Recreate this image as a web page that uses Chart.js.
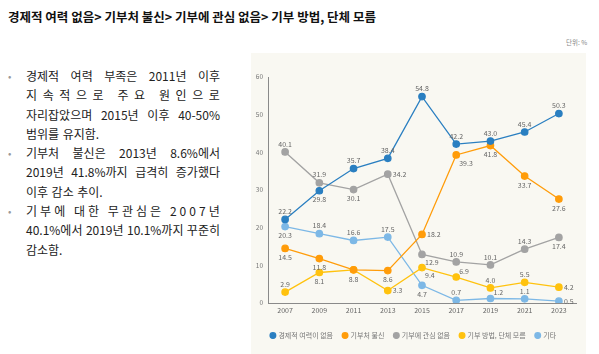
<!DOCTYPE html>
<html>
<head>
<meta charset="utf-8">
<script src="https://cdn.jsdelivr.net/npm/chart.js@4.4.1/dist/chart.umd.min.js"></script>
<style>
body { margin: 0; width: 599px; height: 354px; background: #fff; position: relative; overflow: hidden;
       font-family: "Noto Sans CJK KR", "Noto Sans", sans-serif; }
#title { position: absolute; left: 8px; top: 7px; font-size: 12.5px; font-weight: bold; color: #111; white-space: nowrap; }
#unit { position: absolute; left: 566px; top: 37px; font-size: 6.5px; color: #888; }
#notes { position: absolute; left: 8px; top: 66px; width: 212px; font-size: 12px; color: #222; }
.line { position: relative; height: 19.3px; line-height: 19.3px; display: flex; justify-content: space-between;
        margin-left: 18px; white-space: nowrap; }
.line.left { justify-content: flex-start; gap: 3.5px; }
.bul { position: absolute; left: -18px; color: #999; font-size: 10px; }
#panel { position: absolute; left: 251px; top: 53px; width: 335px; height: 301px; background: #f9f8f2; }
</style>
</head>
<body>
<div id="title">경제적 여력 없음&gt; 기부처 불신&gt; 기부에 관심 없음&gt; 기부 방법, 단체 모름</div>
<div id="unit">단위: %</div>
<div id="notes"></div>
<div id="panel"><canvas id="chart" width="335" height="301"></canvas></div>
<script>
const years = ["2007", "2009", "2011", "2013", "2015", "2017", "2019", "2021", "2023"];
const seriesNames = ["경제적 여력이 없음", "기부처 불신", "기부에 관심 없음", "기부 방법, 단체 모름", "기타"];

const noMeans    = [22.2, 29.8, 35.7, 38.4, 54.8, 42.2, 43.0, 45.4, 50.3];
const distrust   = [14.5, 11.8, 8.8, 8.6, 18.2, 39.3, 41.8, 33.7, 27.6];
const noInterest = [40.1, 31.9, 30.1, 34.2, 12.9, 10.9, 10.1, 14.3, 17.4];
const noIdea     = [2.9, 8.1, 8.8, 3.3, 9.4, 6.9, 4.0, 5.5, 4.2];
const other      = [20.3, 18.4, 16.6, 17.5, 4.7, 0.7, 1.2, 1.1, 0.5];

// where each value label sits next to its point
const labelPos = [
    ["t", "b", "t", "t", "t", "t", "t", "t", "t"],
    ["b", "b", "b", "b", "r", "br", "b", "b", "b"],
    ["t", "t", "b", "r", "br", "t", "t", "t", "b"],
    ["t", "b", null, "r", "br", "tr", "t", "t", "r"],
    ["b", "t", "t", "t", "b", "t", "tr", "t", "r"]
];
const colors = ["#2a7fc1", "#ff9c0a", "#a3a3a3", "#ffc20e", "#7db8e6"];

const notes = [
    { text: "경제적 여력 부족은 2011년 이후", mode: "words", bullet: true },
    { text: "지속적으로 주요 원인으로", mode: "chars" },
    { text: "자리잡았으며 2015년 이후 40-50%", mode: "words" },
    { text: "범위를 유지함.", mode: "left" },
    { text: "기부처 불신은 2013년 8.6%에서", mode: "words", bullet: true },
    { text: "2019년 41.8%까지 급격히 증가했다", mode: "words" },
    { text: "이후 감소 추이.", mode: "left" },
    { text: "기부에 대한 무관심은 2007년", mode: "chars", bullet: true },
    { text: "40.1%에서 2019년 10.1%까지 꾸준히", mode: "words" },
    { text: "감소함.", mode: "left" }
];

const notesEl = document.getElementById("notes");
notes.forEach(n => {
    const div = document.createElement("div");
    div.className = "line" + (n.mode === "left" ? " left" : "");
    if (n.bullet) {
        const b = document.createElement("span");
        b.className = "bul";
        b.textContent = "•";
        div.appendChild(b);
    }
    const parts = n.mode === "chars" ? Array.from(n.text) : n.text.split(" ");
    parts.forEach(p => {
        const s = document.createElement("span");
        s.textContent = p === " " ? "\u00a0" : p;
        div.appendChild(s);
    });
    notesEl.appendChild(div);
});

const pointLabels = {
    id: "pointLabels",
    afterDatasetsDraw(chart) {
        const ctx = chart.ctx;
        ctx.save();
        ctx.font = '7px "Noto Sans CJK KR", sans-serif';
        ctx.fillStyle = "#666";
        ctx.textBaseline = "middle";
        chart.data.datasets.forEach((ds, i) => {
            chart.getDatasetMeta(i).data.forEach((pt, j) => {
                const pos = labelPos[i][j];
                if (!pos) return;
                const txt = ds.data[j].toFixed(1);
                let x = pt.x, y = pt.y;
                ctx.textAlign = "center";
                if (pos === "t") y -= 8;
                else if (pos === "b") y += 9;
                else if (pos === "r") { x += 5; ctx.textAlign = "left"; }
                else if (pos === "br") { x += 3; y += 8; ctx.textAlign = "left"; }
                else if (pos === "tr") { x += 3; y -= 6; ctx.textAlign = "left"; }
                ctx.fillText(txt, x, y);
            });
        });
        ctx.restore();
    }
};

Chart.defaults.font.family = '"Noto Sans CJK KR", sans-serif';

const allData = [noMeans, distrust, noInterest, noIdea, other];

new Chart(document.getElementById("chart").getContext("2d"), {
    type: "line",
    data: {
        labels: years,
        datasets: allData.map((d, i) => ({
            label: seriesNames[i],
            data: d,
            borderColor: colors[i],
            backgroundColor: colors[i],
            pointBackgroundColor: colors[i],
            pointBorderColor: colors[i],
            borderWidth: 1.3,
            pointRadius: 3.2,
            tension: 0
        }))
    },
    options: {
        responsive: false,
        animation: false,
        devicePixelRatio: 1,
        layout: { padding: { top: 24, right: 10, left: 0, bottom: 5 } },
        plugins: {
            tooltip: { enabled: false },
            legend: {
                position: "bottom",
                labels: {
                    usePointStyle: true,
                    pointStyle: "circle",
                    boxWidth: 4,
                    boxHeight: 4,
                    padding: 10,
                    color: "#777",
                    font: { size: 7 }
                }
            }
        },
        scales: {
            x: {
                offset: true,
                grid: { display: false, drawTicks: false },
                border: { color: "#8a8a8a", width: 1 },
                ticks: { color: "#666", font: { size: 7 }, padding: 3 },
                afterFit(scale) { scale.height = 19; }
            },
            y: {
                min: 0,
                max: 60,
                grid: { display: false, drawTicks: false },
                border: { color: "#8a8a8a", width: 1 },
                ticks: { stepSize: 10, color: "#777", font: { size: 6.5 }, padding: 5 },
                afterFit(scale) { scale.width = 17; }
            }
        }
    },
    plugins: [pointLabels]
});
</script>
</body>
</html>
